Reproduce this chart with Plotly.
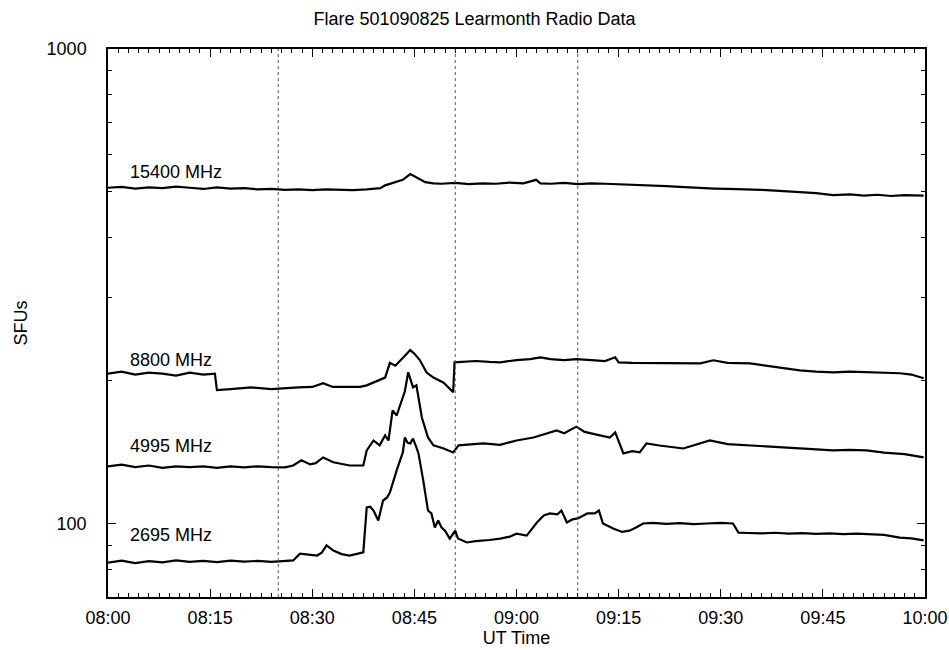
import plotly.graph_objects as go
import pandas as pd

t_15400 = [0, 2, 4, 6, 8, 10, 12, 14, 16, 18, 20, 22, 24, 26, 28, 30, 32, 34, 36, 38,
           39, 40, 40.7, 41.7, 42.5, 43.3, 44.4, 45.5, 46.6, 47.8,
           49, 51, 53, 55, 57, 59, 61, 62.9, 63.5, 65,
           67, 69, 71, 73, 75, 77, 79.6, 82, 84, 87,
           89, 91, 94.3, 96, 98, 101.6, 104, 106.5, 109, 111,
           113, 115, 117, 119.8]
v_15400 = [510, 512, 508, 511, 509, 513, 510, 507, 511, 508, 509, 506, 507, 505, 506, 504, 506, 505, 504, 506,
           508, 509, 516, 521, 524, 530, 545, 535, 524, 521,
           520, 522, 519, 521, 520, 523, 521, 530, 521, 520,
           522, 519, 521, 520, 519, 518, 516, 514, 512, 509,
           508, 507, 506, 505, 503, 499, 497, 492, 494, 491,
           493, 490, 492, 491]

t_8800 = [0, 2, 4, 6, 8, 10, 12, 14,
          15.7, 16, 18, 21, 24, 26, 28, 30, 31.6, 33,
          35.5, 37, 38, 39.5, 40.7, 41.4, 42.2, 43.4, 44.4, 45.0,
          45.8, 46.8, 47.8, 49.3, 50.7, 50.9, 52, 54, 56, 57.6,
          60, 62, 63.5, 65, 67, 68.8, 71, 73, 74.5, 75,
          77, 80, 82.1, 85, 87, 88.9, 91, 94.3, 97, 99,
          101.6, 104, 106.5, 109, 111.4, 114, 116.3, 118, 119.8]
v_8800 = [207, 209, 206, 208, 207, 205, 208, 206,
          207, 191, 192, 193.6, 192, 193, 193.6, 194, 197.5, 194,
          193.6, 194, 195.5, 200, 203, 218, 215, 224, 232, 228,
          221, 208, 203, 198, 189, 218.6, 219, 220, 219, 218.6,
          221, 222, 224, 222, 221, 222, 221, 220, 224, 218.6,
          218, 218, 217.5, 218, 217.5, 220.8, 218, 217.5, 215, 213,
          210.3, 209, 208.3, 209, 208.3, 208, 207.3, 206, 202.3]

t_4995 = [0, 2, 4, 6, 8, 10, 12, 14, 16, 18, 20, 22, 24, 26,
          27.2, 28.4, 29.7, 30.5, 31.6, 33.1, 35.5, 37.5, 38.0, 39.0,
          39.9, 40.7, 41.2, 41.8, 42.4, 43.1, 43.6, 44.1, 44.8, 45.3,
          46.1, 47.0, 47.8, 49.3, 50.7, 51.5, 53, 55.1, 57.6, 60,
          62.5, 64, 65.9, 67, 68.8, 70, 72, 73.7, 74.5, 75.7,
          77, 78.1, 79.1, 81, 84.5, 86, 88.4, 91, 94.3, 97,
          100.2, 103, 106.5, 109, 111.4, 114, 117, 119.8]
v_4995 = [132, 133, 131.5, 132.5, 131, 132, 131.5, 132, 131, 132, 131.3, 132, 131.5, 131.3,
          132.5, 135.9, 133.2, 134, 137.8, 134.6, 132.5, 132.5, 142.6, 149.6,
          146.1, 153.3, 149.6, 173.1, 168.9, 181.7, 190, 208.3, 193.6, 195.5,
          167.3, 151.8, 146.1, 143.9, 141.2, 146.1, 146.5, 147.5, 146.5, 149.6,
          151.8, 154, 157.1, 155, 160, 156, 154, 151.8, 155.6, 140.5,
          142, 141.2, 147.5, 146, 143.9, 146, 149.6, 147, 146.1, 145.5,
          144.6, 143.5, 142.6, 143, 142.6, 141, 140, 137.8]

t_2695 = [0, 2, 4, 6, 8, 10, 12, 14, 16, 18, 20, 22, 24, 26,
          27.2, 28.2, 29.5, 30.7, 31.4, 32.1, 33.1, 34.3, 35.5, 37.5,
          38.0, 38.5, 39.0, 39.7, 40.4, 41.0, 41.4, 41.9, 42.4, 42.9,
          43.3, 43.6, 44.0, 44.4, 44.8, 45.2, 45.6, 46.3, 47.0, 47.5,
          48.0, 48.5, 49.0, 49.5, 50.2, 51.0, 51.4, 52.7, 54, 56,
          57.6, 59, 60, 61.5, 63.0, 64.0, 64.9, 66.0, 66.6, 67.4,
          68.2, 69.0, 70.4, 71.5, 72.1, 72.7, 73.5, 74.2, 75.5, 76.6,
          77.5, 78.6, 80, 82, 84, 86, 88, 90, 91.8, 92.6,
          94, 96, 98, 100, 102, 104, 106, 108, 110, 112, 114,
          116.3, 118, 119.8]
v_2695 = [82.7, 83.5, 82.5, 83.3, 82.8, 83.6, 83, 83.4, 82.9, 83.5, 83.1, 83.4, 83, 83.3,
          83.6, 86.4, 86, 85.6, 86.8, 89.9, 87.7, 86.2, 85.6, 86.9,
          108.1, 108.5, 106.5, 101.5, 111.8, 113.5, 116.2, 123.3, 129.4, 135.9,
          141, 151.8, 148, 147.5, 151, 146, 140.5, 123.3, 106.5, 105,
          98.1, 101.5, 98, 96.6, 92.9, 96.6, 93, 91.2, 91.8, 92.3,
          92.9, 93.8, 95.2, 94.3, 100.5, 104, 105, 104.5, 106.5, 100.5,
          102, 102.5, 105, 105, 106.5, 100, 98.5, 97.6, 96, 96.6,
          98, 100, 100.3, 99.8, 100.2, 99.7, 100, 100.3, 100, 95.7,
          95.5, 95.3, 95.6, 95.2, 95.4, 95.1, 95.3, 95, 95.2, 94.8, 94.6,
          93.4, 93, 92.1]

series = [("15400 MHz", t_15400, v_15400),
          ("8800 MHz", t_8800, v_8800),
          ("4995 MHz", t_4995, v_4995),
          ("2695 MHz", t_2695, v_2695)]

# marker times (dotted verticals)
marker_minutes = [25, 51, 69]

start = pd.Timestamp("2005-01-09 08:00:00")


def to_time(mins):
    return start + pd.to_timedelta(mins, unit="m")


FONT = "Liberation Sans, Arial, Helvetica, sans-serif"

fig = go.Figure()

for name, t, v in series:
    fig.add_trace(go.Scatter(
        x=to_time(t), y=v, mode="lines", name=name,
        line=dict(color="black", width=2.2),
        showlegend=False
    ))

for m in marker_minutes:
    fig.add_vline(x=to_time(m), line=dict(color="#555555", width=1, dash="dot"))

# labels next to each trace
label_pos = {"15400 MHz": 0.776, "8800 MHz": 0.4325, "4995 MHz": 0.2755, "2695 MHz": 0.113}
for name, ypos in label_pos.items():
    fig.add_annotation(x=0.025, y=ypos, xref="paper", yref="paper", text=name,
                       showarrow=False, xanchor="left", yanchor="middle",
                       font=dict(family=FONT, size=18, color="black"))

fig.update_layout(
    width=949, height=650,
    margin=dict(l=108, r=24, t=49, b=53),
    paper_bgcolor="white", plot_bgcolor="white",
    font=dict(family=FONT, size=18, color="black"),
    title=dict(text="Flare 501090825 Learmonth Radio Data", x=0.5, xanchor="center",
               y=0.972, yanchor="middle", yref="container",
               font=dict(family=FONT, size=18, color="black")),
)

fig.update_xaxes(
    type="date", range=[to_time(0), to_time(120)],
    tick0=to_time(0), dtick=900000, tickformat="%H:%M",
    ticks="inside", ticklen=8, tickcolor="black", tickwidth=1,
    minor=dict(dtick=90000, ticks="inside", ticklen=4, tickcolor="black"),
    showline=True, linecolor="black", linewidth=1.5, mirror="allticks",
    showgrid=False, zeroline=False, automargin=False,
    ticklabelstandoff=4,
    title=dict(text="UT Time", standoff=3, font=dict(family=FONT, size=18)),
)

fig.update_yaxes(
    type="log", range=[1.8451, 3],
    tickvals=[100, 1000], ticktext=["100", "1000"],
    ticks="inside", ticklen=8, tickcolor="black", tickwidth=1,
    minor=dict(tickvals=[70, 80, 90, 200, 300, 400, 500, 600, 700, 800, 900],
               ticks="inside", ticklen=4, tickcolor="black"),
    showline=True, linecolor="black", linewidth=1.5, mirror="allticks",
    showgrid=False, zeroline=False, automargin=False,
    ticklabelstandoff=16,
    title=dict(text="SFUs", standoff=14, font=dict(family=FONT, size=18)),
)

fig.write_html("out.html", config={"displayModeBar": False},
               post_script="document.body.style.margin='0';document.body.style.overflow='hidden';")
